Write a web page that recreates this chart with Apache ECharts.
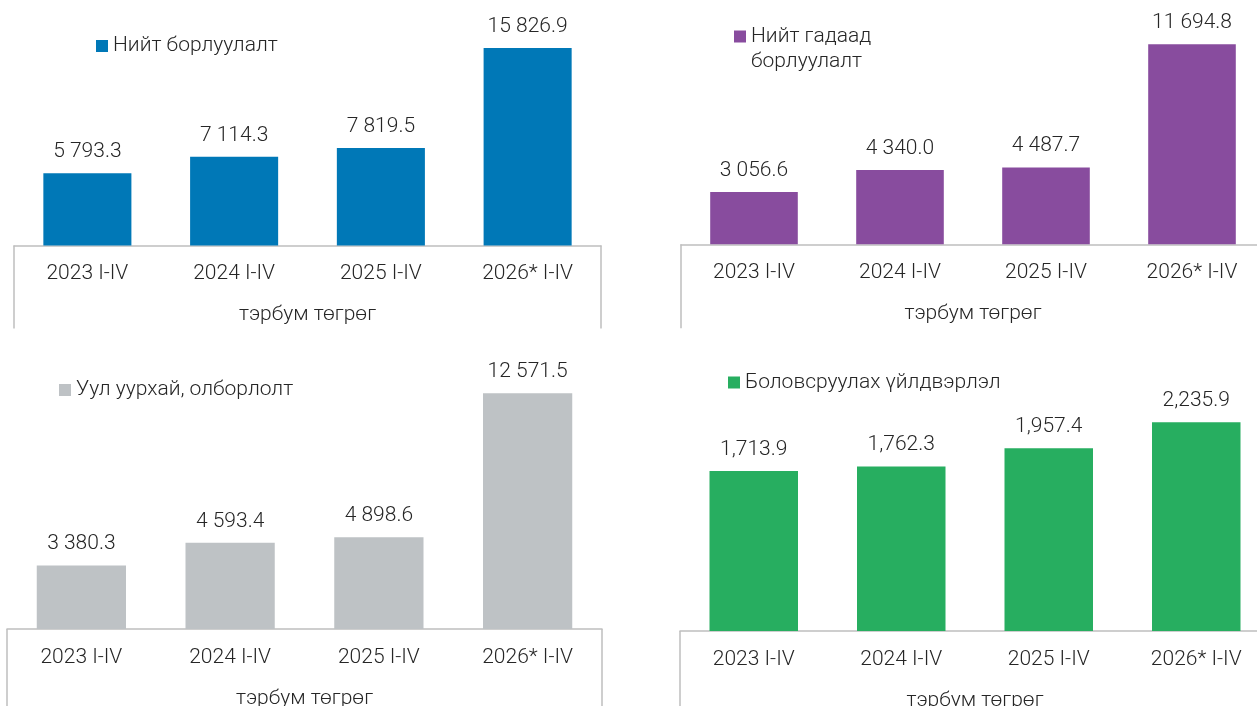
<!DOCTYPE html>
<html>
<head>
<meta charset="utf-8">
<script src="https://cdn.jsdelivr.net/npm/echarts@6/dist/echarts.min.js"></script>
<style>
  html, body { margin: 0; padding: 0; background: #fff; }
  #main { width: 1257px; height: 706px; }
</style>
</head>
<body>
<div id="main"></div>
<script>
// 数据
var categories = ['2023 I-IV', '2024 I-IV', '2025 I-IV', '2026* I-IV'];
var totalSales = [5793.3, 7114.3, 7819.5, 15826.9];
var exportSales = [3056.6, 4340.0, 4487.7, 11694.8];
var mining = [3380.3, 4593.4, 4898.6, 12571.5];
var manufacturing = [1713.9, 1762.3, 1957.4, 2235.9];
var seriesNames = ['Нийт борлуулалт', 'Нийт гадаад борлуулалт', 'Уул уурхай, олборлолт', 'Боловсруулах үйлдвэрлэл'];
var unitName = 'тэрбум төгрөг';

(function() {
    var myChart = echarts.init(document.getElementById('main'));
    var font = 'Roboto, "Noto Sans", sans-serif';
    var weight = 300;
    var textColor = '#262626';
    var colors = ['#0078b7', '#884c9e', '#bec2c5', '#27ae60'];

    // 千位分隔
    function fmt(v, sep) {
        var parts = v.toFixed(1).split('.');
        return parts[0].replace(/\B(?=(\d{3})+(?!\d))/g, sep) + '.' + parts[1];
    }

    // 每个小图的位置 (不自动收缩)
    var grids = [
        { left: 14, top: 21, width: 587, height: 224.5, outerBoundsMode: 'none' },
        { left: 681, top: 22, width: 584, height: 222.3, outerBoundsMode: 'none' },
        { left: 7, top: 366.5, width: 595, height: 262.5, outerBoundsMode: 'none' },
        { left: 680, top: 397.7, width: 590, height: 233.3, outerBoundsMode: 'none' }
    ];
    var yMax = [18000, 13000, 14000, 2500];
    var tickLen = [83, 84, 80, 80];
    var dataSets = [totalSales, exportSales, mining, manufacturing];
    var seps = [' ', ' ', ' ', ','];

    var xAxes = [], yAxes = [], series = [];
    grids.forEach(function(g, i) {
        xAxes.push({
            type: 'category',
            gridIndex: i,
            data: categories,
            axisLine: { lineStyle: { color: '#bfbfbf', width: 1.5 } },
            // 只保留两端的竖线
            axisTick: {
                show: true,
                interval: function(idx) { return idx === 0; },
                length: tickLen[i],
                lineStyle: { color: '#bfbfbf', width: 1.5 }
            },
            axisLabel: { color: textColor, fontFamily: font, fontWeight: weight, fontSize: 21, margin: 18, interval: 0 },
            name: unitName,
            nameLocation: 'middle',
            nameGap: 59,
            nameTextStyle: { color: textColor, fontFamily: font, fontWeight: weight, fontSize: 21 }
        });
        yAxes.push({ type: 'value', gridIndex: i, min: 0, max: yMax[i], show: false, splitLine: { show: false } });
        series.push({
            name: seriesNames[i],
            type: 'bar',
            xAxisIndex: i,
            yAxisIndex: i,
            data: dataSets[i],
            barWidth: '60%',
            itemStyle: { color: colors[i] },
            label: {
                show: true,
                position: 'top',
                distance: 11,
                color: textColor,
                fontFamily: font,
                fontWeight: weight,
                fontSize: 21,
                formatter: (function(sep) {
                    return function(p) { return fmt(p.value, sep); };
                })(seps[i])
            }
        });
    });

    var legendBase = {
        icon: 'rect',
        itemWidth: 12,
        itemHeight: 12,
        padding: 0,
        selectedMode: false,
        textStyle: { color: textColor, fontFamily: font, fontWeight: weight, fontSize: 21 }
    };
    var legends = [
        Object.assign({}, legendBase, { data: [seriesNames[0]], left: 96, top: 35.5 }),
        Object.assign({}, legendBase, {
            data: [seriesNames[1]], left: 734, top: -1,
            // 第一行与图例方块对齐
            formatter: function() { return ' \nНийт гадаад\nборлуулалт'; },
            textStyle: { color: textColor, fontFamily: font, fontWeight: weight, fontSize: 21, lineHeight: 25 }
        }),
        Object.assign({}, legendBase, { data: [seriesNames[2]], left: 59, top: 379.5 }),
        Object.assign({}, legendBase, { data: [seriesNames[3]], left: 728, top: 372 })
    ];

    var option = {
        animation: false,
        backgroundColor: '#ffffff',
        legend: legends,
        grid: grids,
        xAxis: xAxes,
        yAxis: yAxes,
        series: series
    };
    myChart.setOption(option);
    window.addEventListener('resize', function() {
        myChart.resize();
    });
})();
</script>
</body>
</html>
